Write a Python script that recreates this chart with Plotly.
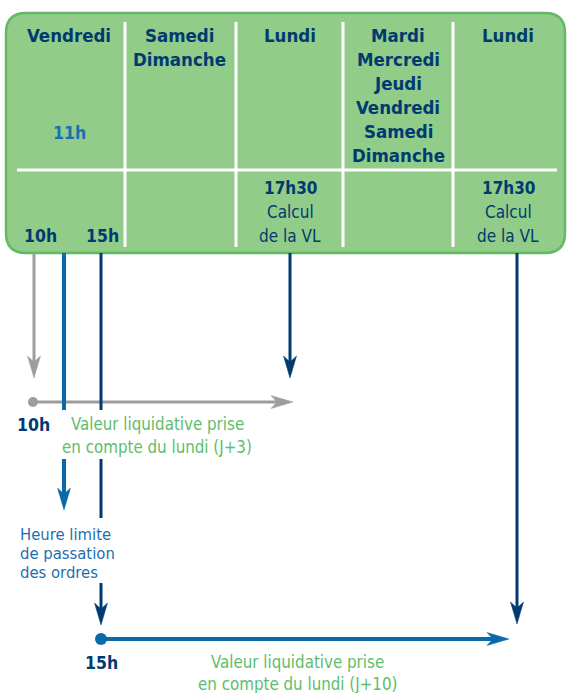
import plotly.graph_objects as go

W, H = 567, 693
FONT = "DejaVu Sans Condensed, Liberation Sans Narrow, Roboto Condensed, Roboto, sans-serif"
NAVY = "#003a70"
BLUE = "#0a69a8"
BLUE_TXT = "#1a6fb0"
GRAY = "#9d9d9f"
GREEN_TXT = "#5dbd6b"
FILL = "#91cc89"
BORDER = "#62b966"

# ---- content ----
col_x = [69, 179, 290, 398, 508]
col_titles = [["Vendredi"], ["Samedi", "Dimanche"], ["Lundi"],
              ["Mardi", "Mercredi", "Jeudi", "Vendredi", "Samedi", "Dimanche"],
              ["Lundi"]]
divider_x = [125, 236, 343, 453]
row_divider_y = 170
box = dict(x0=6, x1=565, y0=13, y1=253, r=20)

hour_11 = ("11h", 69, 133)
hours_bottom = [("10h", 40, 236), ("15h", 102, 236)]
vl_cols = [290, 508]
vl_lines = [("17h30", "bold"), ("Calcul", "normal"), ("de la VL", "normal")]
vl_y = [188, 212, 236]

# arrows: (x0, y0, x1, y1, colour, width, head)
segments = [
    (33, 402, 293, 402, GRAY, 3, True),
    (34, 253, 34, 378, GRAY, 3, True),
    (290, 253, 290, 378, NAVY, 3, True),
    (64, 253, 64, 410, BLUE, 4, False),
    (64, 459, 64, 510, BLUE, 4, True),
    (101, 253, 101, 410, NAVY, 3, False),
    (101, 459, 101, 518, NAVY, 3, False),
    (101, 583, 101, 625, NAVY, 3, True),
    (517, 253, 517, 624, NAVY, 3, True),
    (101, 639, 509, 639, BLUE, 4, True),
]
dots = [(33, 402, GRAY, 5), (101, 639, BLUE, 6)]

labels = [
    # text, x, y, colour, weight, size, anchor
    ("10h", 33, 425, NAVY, "bold", 17.5, "center"),
    ("Valeur liquidative prise", 157, 424, GREEN_TXT, "normal", 16.8, "center"),
    ("en compte du lundi (J+3)", 157, 447, GREEN_TXT, "normal", 16.8, "center"),
    ("Heure limite", 18, 534, BLUE_TXT, "normal", 16.5, "left"),
    ("de passation", 18, 553, BLUE_TXT, "normal", 16.5, "left"),
    ("des ordres", 18, 572, BLUE_TXT, "normal", 16.5, "left"),
    ("15h", 101, 663, NAVY, "bold", 17.5, "center"),
    ("Valeur liquidative prise", 297, 662, GREEN_TXT, "normal", 16.8, "center"),
    ("en compte du lundi (J+10)", 297, 684, GREEN_TXT, "normal", 16.8, "center"),
]

fig = go.Figure()
shapes = []
annotations = []

# rounded box
b = box
r = b["r"]
path = (f"M{b['x0']+r},{b['y0']} L{b['x1']-r},{b['y0']} Q{b['x1']},{b['y0']} {b['x1']},{b['y0']+r} "
        f"L{b['x1']},{b['y1']-r} Q{b['x1']},{b['y1']} {b['x1']-r},{b['y1']} "
        f"L{b['x0']+r},{b['y1']} Q{b['x0']},{b['y1']} {b['x0']},{b['y1']-r} "
        f"L{b['x0']},{b['y0']+r} Q{b['x0']},{b['y0']} {b['x0']+r},{b['y0']} Z")
shapes.append(dict(type="path", path=path, xref="x", yref="y", fillcolor=FILL,
                   line=dict(color=BORDER, width=2.5), layer="below"))
for dx in divider_x:
    shapes.append(dict(type="line", x0=dx, x1=dx, y0=b["y0"] + 9, y1=b["y1"] - 6,
                       xref="x", yref="y", line=dict(color="white", width=3)))
shapes.append(dict(type="line", x0=b["x0"] + 11, x1=b["x1"] - 8, y0=row_divider_y, y1=row_divider_y,
                   xref="x", yref="y", line=dict(color="white", width=3)))


def head_path(tx, ty, ux, uy, L, hw, notch):
    px, py = -uy, ux
    bx, by = tx - L * ux, ty - L * uy
    nx, ny = tx - (L - notch) * ux, ty - (L - notch) * uy
    return (f"M{tx},{ty} L{bx + hw*px},{by + hw*py} L{nx},{ny} "
            f"L{bx - hw*px},{by - hw*py} Z"), (nx, ny)


for x0, y0, x1, y1, col, w, head in segments:
    ex, ey = x1, y1
    if head:
        dx, dy = x1 - x0, y1 - y0
        n = (dx * dx + dy * dy) ** 0.5
        ux, uy = dx / n, dy / n
        p, (ex, ey) = head_path(x1, y1, ux, uy, 22, 6.5, 6)
        shapes.append(dict(type="path", path=p, xref="x", yref="y", fillcolor=col,
                           line=dict(color=col, width=0.5)))
    shapes.append(dict(type="line", x0=x0, y0=y0, x1=ex, y1=ey, xref="x", yref="y",
                       line=dict(color=col, width=w)))

for cx, cy, col, rad in dots:
    shapes.append(dict(type="circle", x0=cx - rad, x1=cx + rad, y0=cy - rad, y1=cy + rad,
                       xref="x", yref="y", fillcolor=col, line=dict(width=0)))


def txt(t, x, y, color, weight="bold", size=19, anchor="center"):
    annotations.append(dict(text=t, x=x, y=y, xref="x", yref="y", showarrow=False,
                            xanchor=anchor, yanchor="middle",
                            font=dict(family=FONT, size=size, color=color, weight=weight)))


for cx, lines in zip(col_x, col_titles):
    for i, line in enumerate(lines):
        txt(line, cx, 35 + 24 * i, NAVY, "bold", 18.5)

txt(hour_11[0], hour_11[1], hour_11[2], BLUE_TXT, "bold", 17.5)
for t, x, y in hours_bottom:
    txt(t, x, y, NAVY, "bold", 17.5)
for cx in vl_cols:
    for (t, wgt), y in zip(vl_lines, vl_y):
        txt(t, cx, y, NAVY, wgt, 17)

for t, x, y, col, wgt, size, anc in labels:
    txt(t, x, y, col, wgt, size, anc)

fig.update_layout(
    width=W, height=H, margin=dict(l=0, r=0, t=0, b=0),
    paper_bgcolor="white", plot_bgcolor="white",
    xaxis=dict(range=[0, W], visible=False, fixedrange=True),
    yaxis=dict(range=[H, 0], visible=False, fixedrange=True),
    shapes=shapes, annotations=annotations, showlegend=False,
)
fig.write_html("out.html", config={"displayModeBar": False},
               post_script="document.body.style.margin='0';document.body.style.padding='0';"
                           "document.body.style.overflow='hidden';")
